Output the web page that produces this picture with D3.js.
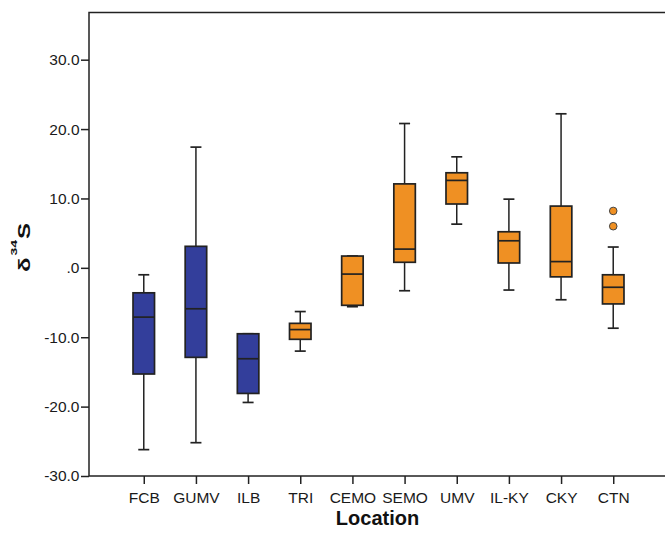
<!DOCTYPE html>
<html>
<head>
<meta charset="utf-8">
<script src="https://cdnjs.cloudflare.com/ajax/libs/d3/7.8.5/d3.min.js"></script>
<style>
  body { margin: 0; background: #fff; }
  svg { display: block; }
</style>
</head>
<body>
<svg id="chart" width="665" height="534"></svg>
<script>
// values
const locations = ["FCB", "GUMV", "ILB", "TRI", "CEMO", "SEMO", "UMV", "IL-KY", "CKY", "CTN"];
const boxGroup = [0, 0, 0, 1, 1, 1, 1, 1, 1, 1];
const lowWhisker = [-26.2, -25.2, -19.4, -12.0, -5.6, -3.3, 6.3, -3.2, -4.6, -8.7];
const q1 = [-15.3, -12.9, -18.1, -10.3, -5.4, 0.8, 9.2, 0.7, -1.3, -5.2];
const median = [-7.1, -5.9, -13.1, -8.9, -0.9, 2.7, 12.6, 3.9, 0.9, -2.8];
const q3 = [-3.6, 3.1, -9.5, -8.0, 1.7, 12.1, 13.7, 5.2, 8.9, -1.0];
const highWhisker = [-1.0, 17.4, -9.5, -6.3, 1.7, 20.8, 16.0, 9.9, 22.2, 3.0];
const outlierLoc = ["CTN", "CTN"];
const outlierVal = [6.0, 8.2];
const yTicks = [-30, -20, -10, 0, 10, 20, 30];
const groupColors = ["#333e9b", "#ef9023"];

const svg = d3.select("#chart");
const plotLeft = 89, plotRight = 668, plotTop = 12.5, plotBottom = 476;
const ink = "#222";

const x = d3.scalePoint().domain(locations).range([plotLeft, plotRight]).padding(1.05);
const y = d3.scaleLinear().domain([-30, 36.8]).range([plotBottom, plotTop]);

const boxW = 21.5, capW = 11;

// frame
svg.append("rect")
    .attr("x", plotLeft).attr("y", plotTop)
    .attr("width", plotRight - plotLeft).attr("height", plotBottom - plotTop)
    .attr("fill", "none").attr("stroke", ink).attr("stroke-width", 1.5);

// y axis
const yAxis = svg.append("g")
    .attr("transform", "translate(" + plotLeft + ",0)")
    .call(d3.axisLeft(y).tickValues(yTicks).tickSize(8).tickPadding(1.5)
        .tickFormat(d => d === 0 ? ".0" : d.toFixed(1)));
yAxis.select(".domain").remove();
yAxis.selectAll("line").attr("stroke", ink).attr("stroke-width", 1.5);
yAxis.selectAll("text")
    .style("font-family", "'Liberation Sans', Arial, sans-serif")
    .style("font-size", "15.5px")
    .attr("fill", "#1a1a1a");

// x axis
const xAxis = svg.append("g")
    .attr("transform", "translate(0," + plotBottom + ")")
    .call(d3.axisBottom(x).tickSize(8));
xAxis.select(".domain").remove();
xAxis.selectAll("line").attr("stroke", ink).attr("stroke-width", 1.5);
xAxis.selectAll("text")
    .attr("y", 26.7).attr("dy", null)
    .style("font-family", "'Liberation Sans', Arial, sans-serif")
    .style("font-size", "15.5px")
    .attr("fill", "#1a1a1a");

// boxes
const boxes = svg.append("g").selectAll("g")
    .data(locations)
    .join("g")
    .attr("transform", d => "translate(" + x(d) + ",0)");

boxes.append("line")
    .attr("x1", 0).attr("x2", 0)
    .attr("y1", (d, i) => y(lowWhisker[i])).attr("y2", (d, i) => y(q1[i]))
    .attr("stroke", ink).attr("stroke-width", 1.5);
boxes.append("line")
    .attr("x1", 0).attr("x2", 0)
    .attr("y1", (d, i) => y(q3[i])).attr("y2", (d, i) => y(highWhisker[i]))
    .attr("stroke", ink).attr("stroke-width", 1.5);
boxes.append("line")
    .attr("x1", -capW / 2).attr("x2", capW / 2)
    .attr("y1", (d, i) => y(lowWhisker[i])).attr("y2", (d, i) => y(lowWhisker[i]))
    .attr("stroke", ink).attr("stroke-width", 1.7);
boxes.append("line")
    .attr("x1", -capW / 2).attr("x2", capW / 2)
    .attr("y1", (d, i) => y(highWhisker[i])).attr("y2", (d, i) => y(highWhisker[i]))
    .attr("stroke", ink).attr("stroke-width", 1.7);

boxes.append("rect")
    .attr("x", -boxW / 2).attr("width", boxW)
    .attr("y", (d, i) => y(q3[i]))
    .attr("height", (d, i) => y(q1[i]) - y(q3[i]))
    .attr("fill", (d, i) => groupColors[boxGroup[i]])
    .attr("stroke", ink).attr("stroke-width", 1.7);

boxes.append("line")
    .attr("x1", -boxW / 2).attr("x2", boxW / 2)
    .attr("y1", (d, i) => y(median[i])).attr("y2", (d, i) => y(median[i]))
    .attr("stroke", ink).attr("stroke-width", 1.7);

// outliers
svg.append("g").selectAll("circle")
    .data(outlierVal)
    .join("circle")
    .attr("cx", (d, i) => x(outlierLoc[i]))
    .attr("cy", d => y(d))
    .attr("r", 3.8)
    .attr("fill", groupColors[1])
    .attr("stroke", "#444").attr("stroke-width", 1);

// axis titles
svg.append("text")
    .attr("x", (plotLeft + plotRight) / 2 - 1).attr("y", 525)
    .attr("text-anchor", "middle")
    .style("font-family", "'Liberation Sans', Arial, sans-serif")
    .style("font-size", "20px").style("font-weight", "bold")
    .attr("fill", "#111")
    .text("Location");

const yt = svg.append("text")
    .attr("transform", "translate(29.5,247.5) rotate(-90) scale(1,0.68)")
    .attr("text-anchor", "middle")
    .style("font-family", "'Liberation Sans', Arial, sans-serif")
    .style("font-size", "24px").style("font-weight", "bold")
    .attr("fill", "#111");
yt.append("tspan").text("δ");
yt.append("tspan").attr("dx", 2).attr("dy", -19).style("font-size", "14px").text("34");
yt.append("tspan").attr("dx", 1).attr("dy", 19).text("S");
</script>
</body>
</html>
